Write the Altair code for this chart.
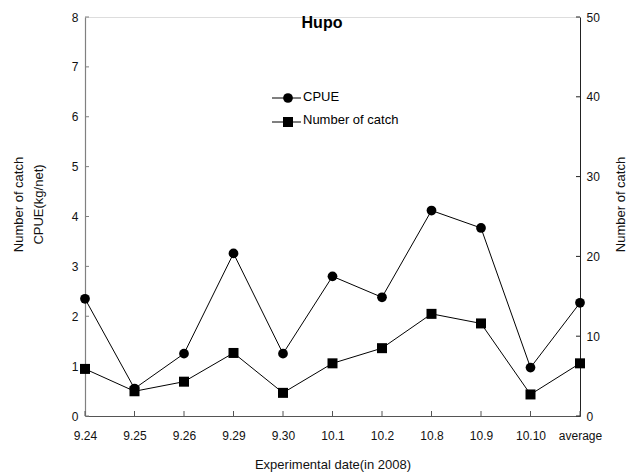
import altair as alt
import pandas as pd

dates = ["9.24", "9.25", "9.26", "9.29", "9.30", "10.1", "10.2", "10.8", "10.9", "10.10", "average"]
cpue = [2.35, 0.55, 1.25, 3.26, 1.25, 2.80, 2.38, 4.12, 3.77, 0.97, 2.27]
catch = [5.9, 3.1, 4.3, 7.9, 2.9, 6.6, 8.5, 12.8, 11.6, 2.7, 6.6]
left_ticks = [0, 1, 2, 3, 4, 5, 6, 7, 8]
right_ticks = [0, 10, 20, 30, 40, 50]

W, H = 495, 399
FONT = "Liberation Sans"

df = pd.DataFrame({"date": dates, "cpue": cpue, "catch": catch})
lt = pd.DataFrame({"v": left_ticks})
rt = pd.DataFrame({"v": right_ticks})
xt = pd.DataFrame({"date": dates})

xscale = alt.Scale(type="point", domain=dates, padding=0)
x_axis = alt.Axis(
    title="Experimental date(in 2008)", titleFont=FONT, titleFontSize=13, titleFontWeight="normal",
    titleColor="#111", titleBaseline="top", titleY=42,
    labelFont=FONT, labelFontSize=12, labelColor="#111", labelAngle=0, labelPadding=14,
    tickSize=0, domainColor="#555", domainWidth=1.2, grid=False,
)
yl_scale = alt.Scale(domain=[0, 8], nice=False, zero=True)
yr_scale = alt.Scale(domain=[0, 50], nice=False, zero=True)

yl_axis = alt.Axis(
    title=["Number of catch", "CPUE(kg/net)"], titleFont=FONT, titleFontSize=13, titleFontWeight="normal",
    titleColor="#111", titleAngle=270, titleBaseline="top", titleX=-73, titleY=187, titleLineHeight=20,
    titleAlign="center",
    labelFont=FONT, labelFontSize=12, labelColor="#111", labelPadding=7,
    values=left_ticks, tickSize=0, domainColor="#808080", domainWidth=1.2, grid=False,
)
yr_axis = alt.Axis(
    orient="right",
    title="Number of catch", titleFont=FONT, titleFontSize=13, titleFontWeight="normal",
    titleColor="#111", titleAngle=270, titleBaseline="top", titleX=34, titleY=187, titleAlign="center",
    labelFont=FONT, labelFontSize=12, labelColor="#111", labelPadding=6,
    values=right_ticks, tickSize=0, domainColor="#222", domainWidth=1, grid=False,
)

base = alt.Chart(df)

cpue_line = base.mark_line(color="black", strokeWidth=1).encode(
    x=alt.X("date:N", scale=xscale, axis=x_axis, sort=dates),
    y=alt.Y("cpue:Q", scale=yl_scale, axis=yl_axis),
)
cpue_pts = base.mark_point(shape="circle", filled=True, color="black", size=95, opacity=1).encode(
    x=alt.X("date:N", scale=xscale, sort=dates),
    y=alt.Y("cpue:Q", scale=yl_scale),
)
lticks = alt.Chart(lt).mark_rule(color="#808080", strokeWidth=1).encode(
    y=alt.Y("v:Q", scale=yl_scale),
    x=alt.value(0), x2=alt.value(4),
)
xticks = alt.Chart(xt).mark_rule(color="#555", strokeWidth=1).encode(
    x=alt.X("date:N", scale=xscale, sort=dates),
    y=alt.value(H), y2=alt.value(H - 5),
)

title_txt = alt.Chart(pd.DataFrame({"t": ["Hupo"]})).mark_text(
    font=FONT, fontSize=16, fontWeight="bold", color="black", baseline="middle", align="center"
).encode(text="t:N", x=alt.value(237), y=alt.value(6))

leg_rows = []
for i, (lab, shp, sz) in enumerate([("CPUE", "circle", 95), ("Number of catch", "square", 100)]):
    yy = 81 + i * 24
    ldf = pd.DataFrame({"t": [lab]})
    leg_rows.append(alt.Chart(ldf).mark_rule(color="black", strokeWidth=1).encode(
        x=alt.value(187), x2=alt.value(216), y=alt.value(yy)))
    leg_rows.append(alt.Chart(ldf).mark_point(shape=shp, filled=True, color="black", size=sz, opacity=1).encode(
        x=alt.value(203), y=alt.value(yy)))
    leg_rows.append(alt.Chart(ldf).mark_text(font=FONT, fontSize=13, color="black", align="left",
                                             baseline="middle").encode(
        text="t:N", x=alt.value(218), y=alt.value(yy - 1 - i)))

left = alt.layer(cpue_line, cpue_pts, lticks, xticks, title_txt, *leg_rows)

catch_line = base.mark_line(color="black", strokeWidth=1).encode(
    x=alt.X("date:N", scale=xscale, sort=dates),
    y=alt.Y("catch:Q", scale=yr_scale, axis=yr_axis),
)
catch_pts = base.mark_point(shape="square", filled=True, color="black", size=100, opacity=1).encode(
    x=alt.X("date:N", scale=xscale, sort=dates),
    y=alt.Y("catch:Q", scale=yr_scale),
)
rticks = alt.Chart(rt).mark_rule(color="#222", strokeWidth=1).encode(
    y=alt.Y("v:Q", scale=yr_scale),
    x=alt.value(W - 4), x2=alt.value(W),
)
right = alt.layer(catch_line, catch_pts, rticks)

chart = alt.layer(left, right).resolve_scale(y="independent").properties(
    width=W, height=H,
    autosize=alt.AutoSizeParams(type="none"),
    padding={"left": 77, "top": 9, "right": 47, "bottom": 58},
).configure_view(stroke=None).configure(background="white")

chart.save("out.html", embed_options={"renderer": "svg", "actions": False})
